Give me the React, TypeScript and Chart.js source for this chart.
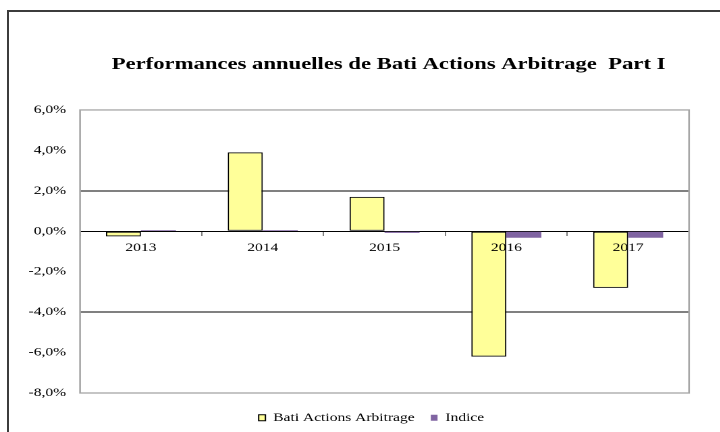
import React, { useEffect, useRef } from "react";
import { Chart, registerables } from "chart.js";

Chart.register(...registerables);

const categories = ["2013", "2014", "2015", "2016", "2017"];
const batiValues = [-0.25, 3.9, 1.7, -6.2, -2.8];
const indiceValues = [0.06, 0.06, -0.08, -0.32, -0.32];
const yTicks = [6, 4, 2, 0, -2, -4, -6, -8];
const gridValues = [2, -4];

const FONT = '"Liberation Serif", "Times New Roman", serif';
const STRETCH = 1.35;
const BASE_W = 534;
const LEGEND_SHIFT_X = 19.9;
const LEGEND_SHIFT_Y = 7;
const TITLE_SHIFT_X = 3;

const layoutTweaksPlugin = {
  id: "layoutTweaks",
  afterLayout(chart: any) {
    const lg = chart.legend;
    if (lg) {
      lg.left += LEGEND_SHIFT_X;
      lg.right += LEGEND_SHIFT_X;
      lg.top += LEGEND_SHIFT_Y;
      lg.bottom += LEGEND_SHIFT_Y;
    }
    const tb = chart.titleBlock;
    if (tb) {
      tb.left += TITLE_SHIFT_X;
      tb.right += TITLE_SHIFT_X;
    }
  },
  beforeDatasetsDraw(chart: any) {
    const { ctx, chartArea } = chart;
    ctx.save();
    ctx.strokeStyle = "#a6a6a6";
    ctx.lineWidth = 1.3;
    ctx.strokeRect(
      chartArea.left,
      chartArea.top,
      chartArea.right - chartArea.left,
      chartArea.bottom - chartArea.top
    );
    ctx.restore();
  },
};

export default function App() {
  const ref = useRef<HTMLCanvasElement | null>(null);

  useEffect(() => {
    if (!ref.current) return;
    const chart = new Chart(ref.current, {
      type: "bar",
      data: {
        labels: categories,
        datasets: [
          {
            label: "Bati Actions Arbitrage",
            data: batiValues,
            backgroundColor: "#ffff99",
            borderColor: "#000000",
            borderWidth: 1,
            borderSkipped: false,
            categoryPercentage: 0.575,
            barPercentage: 1,
          },
          {
            label: "Indice",
            data: indiceValues,
            backgroundColor: "#8064a2",
            borderWidth: 0,
            categoryPercentage: 0.575,
            barPercentage: 1,
          },
        ],
      },
      options: {
        responsive: false,
        animation: false,
        devicePixelRatio: 2,
        layout: { padding: { left: 0, right: 23.6, top: 0, bottom: 5.5 } },
        plugins: {
          title: {
            display: true,
            fullSize: false,
            text: "Performances annuelles de Bati Actions Arbitrage  Part I",
            color: "#000000",
            font: { family: FONT, size: 16.8, weight: "bold" },
            padding: { top: 54.5, bottom: 35.3 },
          },
          legend: {
            display: true,
            position: "bottom",
            fullSize: true,
            labels: {
              color: "#000000",
              font: { family: FONT, size: 11.5 },
              boxWidth: 5,
              boxHeight: 6,
              padding: 12,
            },
          },
          tooltip: { enabled: false },
        },
        scales: {
          x: {
            position: { y: 0 },
            grid: {
              drawOnChartArea: false,
              drawTicks: true,
              tickLength: 4,
              color: "#7f7f7f",
            },
            border: { display: true, color: "#000000", width: 1 },
            ticks: {
              z: 1,
              color: "#000000",
              font: { family: FONT, size: 11.5 },
              padding: 6,
              maxRotation: 0,
            },
          },
          y: {
            min: -8,
            max: 6,
            afterFit: (scale: any) => {
              scale.width = 59.3;
            },
            afterBuildTicks: (scale: any) => {
              scale.ticks = yTicks.map((v) => ({ value: v }));
            },
            grid: {
              drawTicks: false,
              color: (c: any) =>
                gridValues.includes(c.tick && c.tick.value) ? "#000000" : "rgba(0,0,0,0)",
              lineWidth: 1,
            },
            border: { display: false },
            ticks: {
              color: "#000000",
              font: { family: FONT, size: 11.5 },
              padding: 10.4,
              callback: (v: any) => Number(v).toFixed(1).replace(".", ",") + "%",
            },
          },
        },
      },
      plugins: [layoutTweaksPlugin],
    });
    return () => chart.destroy();
  }, []);

  return (
    <div
      style={{
        position: "fixed",
        left: 0,
        top: 0,
        width: 720,
        height: 432,
        background: "#fff",
        overflow: "hidden",
      }}
    >
      <div
        style={{
          position: "absolute",
          left: 7,
          top: 10,
          width: 760,
          height: 460,
          borderLeft: "2px solid #3c3c3c",
          borderTop: "2px solid #3c3c3c",
        }}
      />
      <canvas
        ref={ref}
        style={{
          position: "absolute",
          left: 0,
          top: 0,
          width: BASE_W,
          height: 432,
          display: "block",
          transform: `scaleX(${STRETCH})`,
          transformOrigin: "0 0",
        }}
      />
    </div>
  );
}
